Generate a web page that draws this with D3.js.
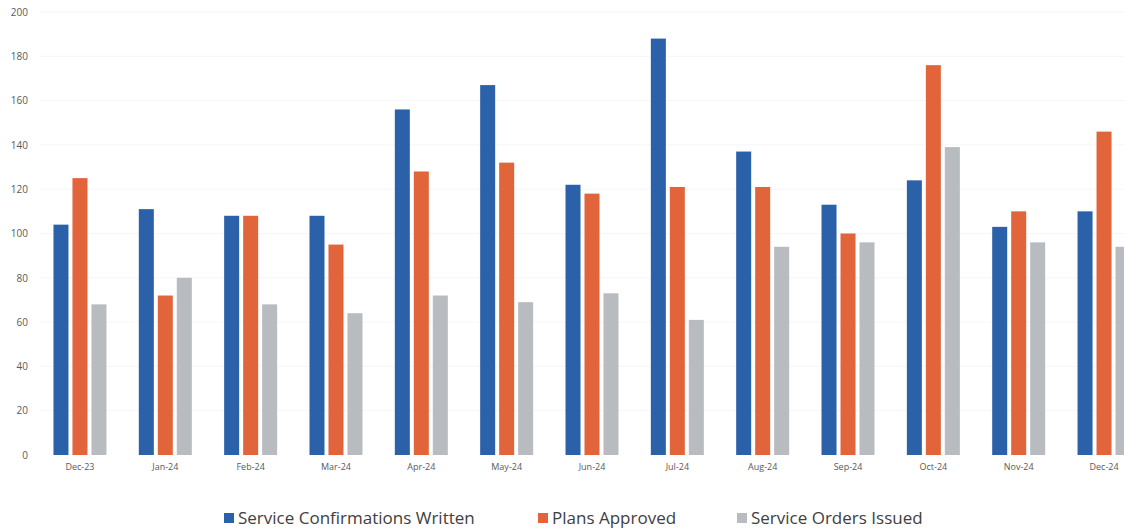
<!DOCTYPE html>
<html>
<head>
<meta charset="utf-8">
<script src="https://cdn.jsdelivr.net/npm/d3@7"></script>
<style>
    body { margin: 0; background: #fff; }
    #chart { width: 1124px; height: 531px; overflow: hidden; }
    .axis text { font-family: "Open Sans", sans-serif; fill: #595959; }
    .axis path, .axis line { display: none; }
</style>
</head>
<body>
<div id="chart"></div>
<script>

// months on the x axis
let months = ['Dec-23', 'Jan-24', 'Feb-24', 'Mar-24', 'Apr-24', 'May-24', 'Jun-24',
    'Jul-24', 'Aug-24', 'Sep-24', 'Oct-24', 'Nov-24', 'Dec-24'];

let seriesNames = ['Service Confirmations Written', 'Plans Approved', 'Service Orders Issued'];

let confirmations = [104, 111, 108, 108, 156, 167, 122, 188, 137, 113, 124, 103, 110];
let plansApproved = [125, 72, 108, 95, 128, 132, 118, 121, 121, 100, 176, 110, 146];
let ordersIssued  = [68, 80, 68, 64, 72, 69, 73, 61, 94, 96, 139, 96, 94];

let yTicks = [0, 20, 40, 60, 80, 100, 120, 140, 160, 180, 200];

let colors = ['#2a61a9', '#e2643b', '#b8bbbf'];

let svg = d3.select('#chart').append('svg')
    .attr('width', 1124)
    .attr('height', 531);

// scales
let x0 = d3.scaleBand()
    .domain(months)
    .range([37.3, 1146.7])
    .paddingInner(0.379)
    .paddingOuter(0.1895);

let x1 = d3.scaleBand()
    .domain(seriesNames)
    .range([0, x0.bandwidth()])
    .paddingInner(0.21);

let y = d3.scaleLinear()
    .domain([0, 200])
    .range([455, 12]);

// very faint gridlines (barely visible on the scan)
svg.append('g')
    .selectAll('line')
    .data(yTicks.slice(1))
    .enter().append('line')
    .attr('x1', 40)
    .attr('x2', 1124)
    .attr('y1', d => y(d))
    .attr('y2', d => y(d))
    .attr('stroke', '#f6f6f6')
    .attr('stroke-width', 1);

// y axis
let yAxis = d3.axisLeft(y).tickValues(yTicks).tickSize(0).tickPadding(0);
svg.append('g')
    .attr('class', 'y-axis axis')
    .attr('transform', 'translate(28,0)')
    .call(yAxis)
    .selectAll('text')
    .style('font-size', '10px');

// x axis
let xAxis = d3.axisBottom(x0).tickSize(0).tickPadding(0);
svg.append('g')
    .attr('class', 'x-axis axis')
    .attr('transform', 'translate(0,464)')
    .call(xAxis)
    .selectAll('text')
    .style('font-size', '9px');

// bars
let rows = months.map((m, i) => ({
    month: m,
    values: [confirmations[i], plansApproved[i], ordersIssued[i]]
}));

let groups = svg.selectAll('.month')
    .data(rows)
    .enter().append('g')
    .attr('class', 'month')
    .attr('transform', d => `translate(${x0(d.month)},0)`);

groups.selectAll('rect')
    .data(d => d.values.map((v, j) => ({name: seriesNames[j], value: v, idx: j})))
    .enter().append('rect')
    .attr('x', d => x1(d.name))
    .attr('width', x1.bandwidth())
    .attr('y', d => y(d.value))
    .attr('height', d => y(0) - y(d.value))
    .attr('fill', d => colors[d.idx]);

// legend
let legendX = [224, 538, 737];
let legend = svg.append('g')
    .selectAll('g')
    .data(seriesNames)
    .enter().append('g')
    .attr('transform', (d, i) => `translate(${legendX[i]},524)`);

legend.append('rect')
    .attr('x', 0)
    .attr('y', -11)
    .attr('width', 10)
    .attr('height', 10)
    .attr('fill', (d, i) => colors[i]);

legend.append('text')
    .attr('x', 14)
    .attr('y', 0)
    .style('font-family', '"Open Sans", sans-serif')
    .style('font-size', '17px')
    .style('fill', '#404040')
    .text(d => d);

</script>
</body>
</html>
